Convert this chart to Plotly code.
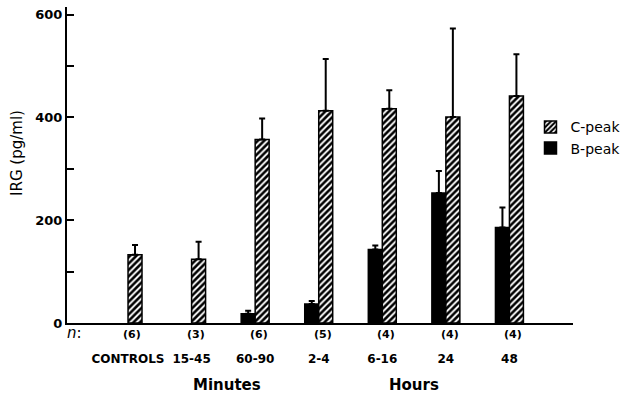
import plotly.graph_objects as go

categories = ["CONTROLS", "15-45", "60-90", "2-4", "6-16", "24", "48"]
n_labels = ["(6)", "(3)", "(6)", "(5)", "(4)", "(4)", "(4)"]
c_peak = [133, 124, 357, 413, 417, 401, 442]
c_peak_err = [19, 34, 41, 101, 36, 172, 81]
b_peak = [None, None, 18, 37, 143, 253, 186]
b_peak_err = [None, None, 6, 6, 8, 43, 39]
y_tickvals = [0, 100, 200, 300, 400, 500, 600]
y_ticktext = ["0", "", "200", "", "400", "", "600"]
group_labels = ["Minutes", "Hours"]
group_pos = [1.55, 4.5]

FONT = "DejaVu Sans"

fig = go.Figure()
fig.add_trace(go.Bar(
    x=categories, y=b_peak, name="B-peak",
    marker=dict(color="black", line=dict(color="black", width=1.5)),
    error_y=dict(type="data", symmetric=False, array=b_peak_err,
                 arrayminus=[0] * len(b_peak), color="black", thickness=2, width=3),
))
fig.add_trace(go.Bar(
    x=categories, y=c_peak, name="C-peak",
    marker=dict(color="white", line=dict(color="black", width=1.5),
                pattern=dict(shape="/", fgcolor="black", bgcolor="white",
                             size=4.5, solidity=0.58, fillmode="replace")),
    error_y=dict(type="data", symmetric=False, array=c_peak_err,
                 arrayminus=[0] * len(c_peak), color="black", thickness=2, width=3),
))

annotations = []
for i, t in enumerate(n_labels):
    annotations.append(dict(x=i, y=-0.035, xref="x", yref="paper", text=t,
                            showarrow=False, xshift=4, yanchor="middle", xanchor="center",
                            font=dict(family=FONT, size=11, color="black", weight="bold")))
annotations.append(dict(x=-0.004, y=-0.033, xref="paper", yref="paper", text="<i>n</i>:",
                        showarrow=False, xanchor="left", yanchor="middle",
                        font=dict(family=FONT, size=15, color="black")))
for g, p in zip(group_labels, group_pos):
    annotations.append(dict(x=p, y=-0.195, xref="x", yref="paper", text=g, showarrow=False,
                            xanchor="center", yanchor="middle",
                            font=dict(family=FONT, size=15, color="black", weight="bold")))
annotations.append(dict(x=-0.099, y=0.538, xref="paper", yref="paper", text="IRG (pg/ml)",
                        textangle=-90, showarrow=False, xanchor="center", yanchor="middle",
                        font=dict(family=FONT, size=15, color="black")))

fig.update_layout(
    width=636, height=394,
    margin=dict(l=67, r=63, t=7, b=71, autoexpand=False),
    paper_bgcolor="white", plot_bgcolor="white",
    barmode="group", bargap=0.56, bargroupgap=0,
    font=dict(family=FONT, color="black"),
    showlegend=True,
    legend=dict(x=0.916, y=0.67, xanchor="left", yanchor="top", traceorder="reversed",
                font=dict(family=FONT, size=14, color="black"),
                bgcolor="rgba(0,0,0,0)", itemwidth=30),
    annotations=annotations,
    xaxis=dict(type="category", range=[-0.96, 7.0], showline=True, linecolor="black",
               linewidth=2, ticks="", showgrid=False, zeroline=False, automargin=False,
               tickvals=categories, ticktext=categories, ticklabelstandoff=24,
               tickfont=dict(family=FONT, size=12, color="black", weight="bold")),
    yaxis=dict(range=[0, 615], showline=True, linecolor="black", linewidth=2,
               ticks="inside", ticklen=7, tickwidth=2, tickcolor="black", automargin=False,
               tickvals=y_tickvals, ticktext=y_ticktext, showgrid=False, zeroline=False,
               tickfont=dict(family=FONT, size=13, color="black", weight="bold")),
)

fig.write_html(
    "out.html",
    config={"displayModeBar": False},
    post_script="document.body.style.margin='0';document.body.style.overflow='hidden';",
)
